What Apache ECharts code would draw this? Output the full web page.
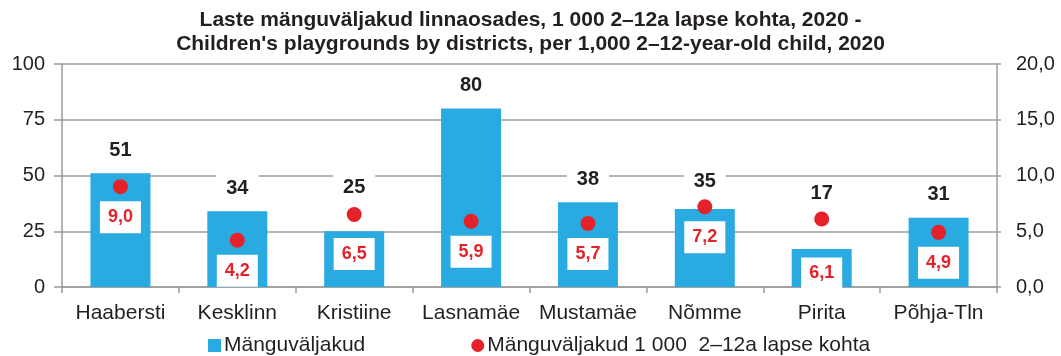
<!DOCTYPE html>
<html>
<head>
<meta charset="utf-8">
<script src="https://cdn.jsdelivr.net/npm/echarts@6/dist/echarts.min.js"></script>
<style>
  html, body { margin: 0; padding: 0; background: #fff; }
  #chart { width: 1061px; height: 356px; }
</style>
</head>
<body>
<div id="chart"></div>
<script>
// Districts of Tallinn
const districts = ['Haabersti', 'Kesklinn', 'Kristiine', 'Lasnamäe', 'Mustamäe', 'Nõmme', 'Pirita', 'Põhja-Tln'];
// Number of playgrounds
const playgrounds = [51, 34, 25, 80, 38, 35, 17, 31];
// Playgrounds per 1 000 children aged 2–12
const perThousand = [9.0, 4.2, 6.5, 5.9, 5.7, 7.2, 6.1, 4.9];

const seriesNames = ['Mänguväljakud', 'Mänguväljakud 1 000  2–12a lapse kohta'];
const titleText = 'Laste mänguväljakud linnaosades, 1 000 2–12a lapse kohta, 2020 -\nChildren\'s playgrounds by districts, per 1,000 2–12-year-old child, 2020';

// manual nudges so value boxes clear the red dots
const barLabelShift = [0, 0, -21, 0, 0, -4, -33, 0];
const redLabelShift = [0, 0, 9, 0, 0, 0, 24, 0];

const BLUE = '#29abe2';
const RED = '#e52229';
const GRID = '#9c9c9c';
const TEXT = '#231f20';
const FONT = '"Liberation Sans", Arial, sans-serif';

const comma = v => v.toFixed(1).replace('.', ',');

const chart = echarts.init(document.getElementById('chart'), null, { renderer: 'canvas' });

chart.setOption({
  backgroundColor: '#fff',
  animation: false,
  textStyle: { fontFamily: FONT },
  title: {
    text: titleText,
    left: 'center',
    top: 3,
    textStyle: { fontFamily: FONT, fontSize: 21, fontWeight: 'bold', color: TEXT, lineHeight: 24 }
  },
  grid: { left: 62, right: 64, top: 64, bottom: 69, containLabel: false },
  legend: {
    left: 203,
    top: 330,
    itemGap: 106,
    itemWidth: 13,
    itemHeight: 13,
    textStyle: { fontFamily: FONT, fontSize: 21, color: TEXT, padding: [0, 0, 0, -2] },
    data: [
      { name: seriesNames[0], icon: 'rect' },
      { name: seriesNames[1], icon: 'circle' }
    ]
  },
  xAxis: {
    type: 'category',
    data: districts,
    axisLine: { lineStyle: { color: GRID, width: 1.5 } },
    axisTick: { show: true, length: 6, alignWithLabel: false, lineStyle: { color: GRID, width: 1.5 } },
    axisLabel: { fontFamily: FONT, fontSize: 21, color: TEXT, margin: 16, interval: 0 }
  },
  yAxis: [
    {
      type: 'value', min: 0, max: 100, interval: 25,
      axisLine: { show: true, lineStyle: { color: GRID, width: 1.5 } },
      axisTick: { show: true, length: 8, lineStyle: { color: GRID, width: 1.5 } },
      splitLine: { lineStyle: { color: GRID, width: 1.5 } },
      axisLabel: { fontFamily: FONT, fontSize: 20, color: TEXT, margin: 17 }
    },
    {
      type: 'value', min: 0, max: 20, interval: 5,
      position: 'right',
      axisLine: { show: true, lineStyle: { color: GRID, width: 1.5 } },
      axisTick: { show: true, length: 4, lineStyle: { color: GRID, width: 1.5 } },
      splitLine: { show: false },
      axisLabel: { fontFamily: FONT, fontSize: 20, color: TEXT, margin: 19, formatter: v => comma(v) }
    }
  ],
  series: [
    {
      name: seriesNames[0],
      type: 'bar',
      yAxisIndex: 0,
      data: playgrounds.map((v, i) => ({
        value: v,
        label: { offset: [0, barLabelShift[i]] }
      })),
      barWidth: 60,
      itemStyle: { color: BLUE },
      label: {
        show: true,
        position: 'top',
        distance: 7,
        fontFamily: FONT,
        fontSize: 20,
        fontWeight: 'bold',
        color: TEXT,
        backgroundColor: '#fff',
        padding: [6, 10]
      },
      z: 2
    },
    {
      name: seriesNames[1],
      type: 'scatter',
      yAxisIndex: 1,
      data: perThousand.map((v, i) => ({
        value: v,
        label: { offset: [0, redLabelShift[i]] }
      })),
      symbol: 'circle',
      symbolSize: 15,
      itemStyle: { color: RED, opacity: 1 },
      emphasis: { disabled: true },
      label: {
        show: true,
        position: 'bottom',
        distance: 7,
        fontFamily: FONT,
        fontSize: 18,
        fontWeight: 'bold',
        color: RED,
        opacity: 1,
        backgroundColor: '#fff',
        padding: [7, 8],
        formatter: p => comma(p.value)
      },
      z: 3
    }
  ]
});
</script>
</body>
</html>
